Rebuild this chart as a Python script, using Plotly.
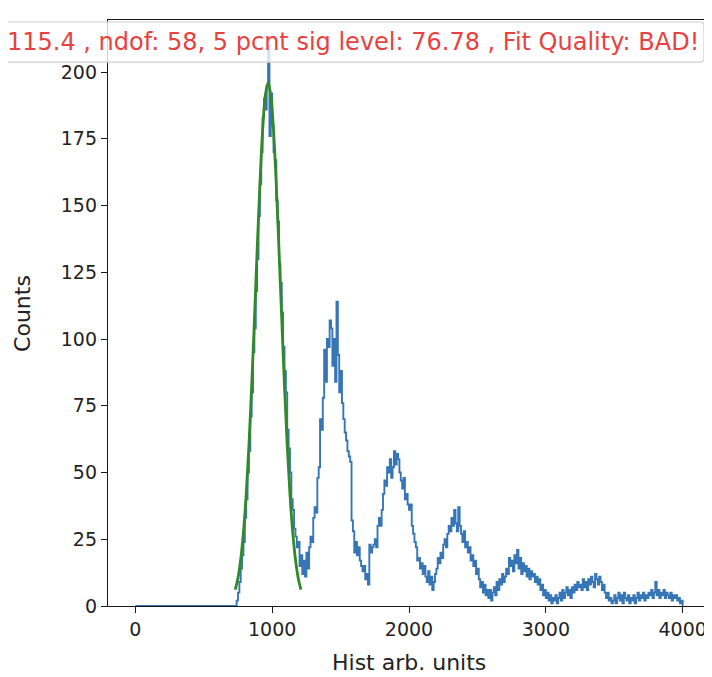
import plotly.graph_objects as go

# histogram: 10-unit bins from 0 to 4000 (first 74 bins empty)
BIN_START = 0
BIN_WIDTH = 10

counts = [0] * 74 + [
    # 740 - 935
    2, 5, 9, 14, 19, 24, 33, 40, 50, 58, 71, 80, 95, 104, 118, 130, 146, 158, 170, 183,
    # 940 - 1135
    190, 186, 195, 210, 176, 192, 180, 170, 167, 152, 144, 128, 121, 110, 97, 88, 80, 66, 59, 50,
    # 1140 - 1335
    40, 36, 29, 26, 22, 24, 15, 19, 12, 17, 11, 20, 14, 22, 26, 24, 33, 37, 35, 48,
    # 1340 - 1535
    52, 70, 66, 78, 96, 84, 100, 97, 107, 104, 90, 100, 84, 114, 94, 80, 88, 76, 70, 65,
    # 1540 - 1735
    62, 58, 56, 54, 32, 28, 20, 24, 19, 22, 17, 15, 13, 15, 10, 12, 8, 23, 20, 22,
    # 1740 - 1935
    23, 25, 22, 30, 33, 30, 36, 42, 47, 45, 52, 50, 55, 48, 52, 58, 53, 57, 55, 50,
    # 1940 - 2135
    47, 44, 48, 40, 42, 38, 36, 38, 30, 27, 24, 22, 17, 18, 14, 16, 12, 15, 11, 9,
    # 2140 - 2335
    13, 8, 11, 6, 9, 12, 14, 18, 16, 20, 18, 23, 25, 22, 27, 30, 28, 33, 30, 36,
    # 2340 - 2535
    31, 28, 37, 30, 27, 24, 28, 22, 24, 20, 22, 17, 19, 15, 17, 12, 14, 10, 7, 9,
    # 2540 - 2735
    5, 8, 4, 6, 3, 6, 2, 5, 7, 4, 9, 6, 10, 8, 12, 9, 11, 14, 12, 18,
    # 2740 - 2935
    15, 17, 13, 19, 16, 21, 14, 18, 12, 16, 13, 15, 11, 14, 10, 13, 11, 12, 9, 11,
    # 2940 - 3135
    8, 10, 6, 8, 4, 6, 3, 5, 2, 4, 1, 3, 2, 4, 1, 3, 5, 2, 6, 3,
    # 3140 - 3335
    5, 7, 4, 6, 3, 7, 5, 8, 6, 9, 7, 8, 6, 10, 7, 9, 6, 10, 8, 11,
    # 3340 - 3535
    9, 7, 12, 10, 8, 11, 9, 6, 8, 5, 3, 5, 2, 3, 1, 2, 4, 1, 3, 5,
    # 3540 - 3735
    2, 4, 1, 5, 3, 2, 4, 1, 3, 2, 4, 1, 3, 5, 2, 4, 3, 5, 2, 4,
    # 3740 - 3935
    3, 5, 4, 6, 3, 5, 9, 4, 6, 3, 5, 4, 6, 3, 5, 4, 3, 5, 2, 4,
    # 3940 - 3995
    3, 4, 2, 3, 1, 2,
]

# gaussian fit curve
fit_x = [730, 750, 770, 790, 810, 830, 850, 870, 890, 910, 930, 950, 970,
         990, 1010, 1030, 1050, 1070, 1090, 1110, 1130, 1150, 1170, 1190, 1210]
fit_y = [6.1, 10.5, 17.5, 27.7, 41.8, 60.0, 82.2, 107.2, 133.2, 157.7, 178.0, 191.3, 196.0,
         191.3, 178.0, 157.7, 133.2, 107.2, 82.2, 60.0, 41.8, 27.7, 17.5, 10.5, 6.1]

fit_label = "115.4 , ndof: 58, 5 pcnt sig level: 76.78 , Fit Quality: BAD!"

x_ticks = [0, 1000, 2000, 3000, 4000]
y_ticks = [0, 25, 50, 75, 100, 125, 150, 175, 200]

edges = [BIN_START + i * BIN_WIDTH for i in range(len(counts) + 1)]
step_x = edges + [edges[-1]]
step_y = counts + [counts[-1], 0]

fig = go.Figure()
fig.add_trace(go.Scatter(x=step_x, y=step_y, mode="lines", line_shape="hv",
                         line=dict(color="#3676b6", width=1.9), showlegend=False))
fig.add_trace(go.Scatter(x=fit_x, y=fit_y, mode="lines", line_shape="spline",
                         line=dict(color="#32892a", width=2.8), showlegend=False))

axis_common = dict(showline=True, linecolor="#1a1a1a", linewidth=1.3, mirror=True,
                   ticks="outside", ticklen=6, tickcolor="#1a1a1a", showgrid=False,
                   zeroline=False, automargin=False,
                   tickfont=dict(size=19, color="#222"))

# rounded legend-like box behind the fit text (paper coords)
x0, x1, y0, y1 = -0.183, 0.99, 0.928, 0.9966
rx, ry = 0.0066, 0.0068
box_path = (f"M {x0 + rx} {y0} L {x1 - rx} {y0} Q {x1} {y0} {x1} {y0 + ry} "
            f"L {x1} {y1 - ry} Q {x1} {y1} {x1 - rx} {y1} "
            f"L {x0 + rx} {y1} Q {x0} {y1} {x0} {y1 - ry} "
            f"L {x0} {y0 + ry} Q {x0} {y0} {x0 + rx} {y0} Z")

# page body adds an 8px offset, so the figure is 8px smaller than the window
fig.update_layout(
    width=704, height=669,
    margin=dict(l=100, r=2, t=12, b=71),
    plot_bgcolor="white", paper_bgcolor="white",
    font=dict(family="DejaVu Sans", color="#222"),
    xaxis=dict(range=[-200, 4200], tickvals=x_ticks, **axis_common),
    yaxis=dict(range=[0, 219.5], tickvals=y_ticks, **axis_common),
    shapes=[dict(type="path", path=box_path, xref="paper", yref="paper", layer="above",
                 fillcolor="rgba(255,255,255,0.8)", line=dict(color="#cfcfcf", width=1.2))],
    annotations=[
        dict(text="Hist arb. units", xref="paper", yref="paper", x=0.5, y=-0.097,
             xanchor="center", yanchor="middle", showarrow=False,
             font=dict(size=22, color="#222")),
        dict(text="Counts", xref="paper", yref="paper", x=-0.143, y=0.5,
             xanchor="center", yanchor="middle", showarrow=False, textangle=-90,
             font=dict(size=22, color="#222")),
        dict(text=fit_label, xref="paper", yref="paper", x=0.407, y=0.9625,
             xanchor="center", yanchor="middle", showarrow=False,
             font=dict(size=24, color="#e8423f", family="DejaVu Sans")),
    ],
)

fig.write_html("out.html")
